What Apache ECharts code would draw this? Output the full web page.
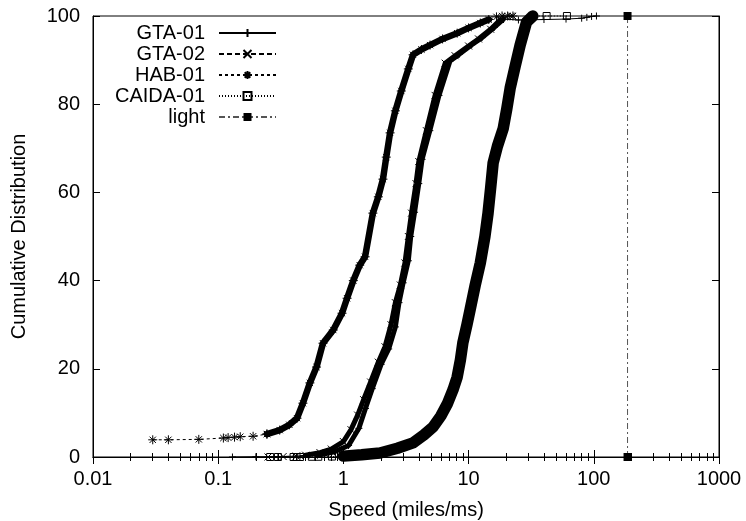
<!DOCTYPE html>
<html>
<head>
<meta charset="utf-8">
<title>Speed CDF</title>
<script src="https://cdn.jsdelivr.net/npm/echarts@6/dist/echarts.min.js"></script>
<style>
  html, body { margin: 0; padding: 0; background: #fff; }
  #chart { width: 746px; height: 521px; }
</style>
</head>
<body>
<div id="chart"></div>
<script>
// ---- data: [speed (miles/ms), cumulative %] ----
var xLabels = [0.01, 0.1, 1, 10, 100, 1000];
var yLabels = [0, 20, 40, 60, 80, 100];

var gta01Low = [[0.13, 0], [0.2, 0.05], [0.3, 0.1], [0.45, 0.2]];
var gta01Body = [[0.62, 0.4], [0.85, 1.2], [1.1, 2.6], [1.33, 6.5], [1.5, 11], [1.7, 15.5], [2.0, 21], [2.3, 24.5],
  [2.6, 29.5], [2.78, 35], [3.0, 39.5], [3.3, 44.5], [3.45, 50], [3.7, 55.5], [4.0, 62], [4.25, 67.5], [4.9, 74],
  [5.8, 82], [7.1, 89.8], [8.4, 91.3], [10.6, 93.5], [12.8, 95.1], [16, 97.4], [19, 99.3]];
var gta01High = [[25, 99.1], [40, 99.2], [60, 99.3], [80, 99.5], [88, 99.7], [96, 99.9], [105, 100]];

var gta02Low = [[0.25, 0], [0.33, 0.1], [0.42, 0.2]];
var gta02Body = [[0.5, 0.4], [0.65, 1.0], [0.8, 1.8], [1.0, 3.5], [1.15, 6.2], [1.3, 9.5], [1.45, 13], [1.65, 17],
  [1.9, 21.5], [2.15, 25], [2.4, 30], [2.6, 35], [2.85, 39], [3.1, 44], [3.3, 50], [3.5, 55.3], [3.8, 62],
  [4.0, 67], [4.6, 74], [5.4, 82], [6.5, 89.3], [7.8, 91], [10, 93.2], [12, 94.8], [15, 97], [18, 99.2]];
var gta02High = [[20, 99.8], [22, 100]];

var habLow = [[0.03, 3.9], [0.04, 3.9], [0.07, 4.0], [0.11, 4.3], [0.12, 4.4], [0.135, 4.5], [0.15, 4.6],
  [0.19, 4.7], [0.245, 5.2]];
var habBody = [[0.245, 5.2], [0.31, 6.1], [0.37, 7.3], [0.426, 8.8], [0.475, 12.2], [0.54, 16.8], [0.61, 20.4],
  [0.687, 25.8], [0.83, 28.8], [0.975, 32.6], [1.07, 36], [1.2, 40], [1.35, 43.5], [1.49, 45.4], [1.72, 55.3],
  [1.9, 59], [2.07, 63], [2.2, 68], [2.36, 73.5], [2.6, 78.5], [2.9, 83], [3.3, 88], [3.6, 91.2], [4.2, 92.4],
  [4.92, 93.4], [6.2, 94.8], [8.1, 96.1], [10, 97.3], [12.4, 98.4], [14.5, 99.2]];
var habHigh = [[16.7, 99.8], [18.5, 100], [20.5, 100], [22.6, 100]];

var caidaLow = [[0.26, 0], [0.3, 0], [0.4, 0], [0.45, 0], [0.56, 0.05], [0.63, 0.05], [0.81, 0.1], [1.0, 0.2]];
var caidaBody = [[1.0, 0.2], [1.4, 0.5], [1.96, 0.9], [2.7, 2.0], [3.6, 3.2], [4.4, 5.0], [5.2, 6.8], [6.0, 9.3],
  [6.8, 12.2], [7.5, 15.2], [8.1, 18.1], [8.6, 22], [9.0, 25.9], [9.7, 30], [10.3, 33.5], [11.3, 39], [12.4, 44],
  [13.5, 50], [14.3, 55.3], [15.0, 61], [15.7, 66.7], [17, 70.5], [18.9, 74.5], [20.2, 79], [21.5, 83.7],
  [23.5, 88.5], [25.8, 93.4], [29, 98.6], [32.6, 100]];
var caidaHigh = [[42, 100], [61, 100]];

var lightLine = [[186, 0], [186, 100]];

// ---- style ----
var FONT = "'Liberation Sans', Arial, sans-serif";
var plusSym = 'path://M5,0L5,10M0,5L10,5';
var crossSym = 'path://M0,0L10,10M0,10L10,0';
var starSym = 'path://M5,0L5,10M0,5L10,5M1.5,1.5L8.5,8.5M1.5,8.5L8.5,1.5';
var boxSym = 'path://M0,0L10,0L10,10L0,10Z';

function markSeries(name, data, symbol, size, dash) {
  return {
    name: name,
    type: 'line',
    data: data,
    symbol: symbol,
    symbolSize: size,
    showSymbol: true,
    showAllSymbol: true,
    clip: false,
    animation: false,
    itemStyle: { color: 'none', borderColor: '#000', borderWidth: 1 },
    lineStyle: { color: '#000', width: 1, type: dash }
  };
}

// the dense marker runs of the original show up as a thick black band
function bandSeries(name, data, width) {
  return {
    name: name,
    type: 'line',
    data: data,
    symbol: 'none',
    silent: true,
    clip: false,
    animation: false,
    lineStyle: { color: '#000', width: width, type: 'solid', cap: 'round', join: 'round' }
  };
}

var tickInside = { show: true, inside: true, length: 7, lineStyle: { color: '#000', width: 1 } };
var minorInside = { show: true, splitNumber: 9, length: 4, lineStyle: { color: '#000', width: 1 } };

var myChart = echarts.init(document.getElementById('chart'));

var option = {
  backgroundColor: '#fff',
  animation: false,
  textStyle: { fontFamily: FONT },
  grid: {
    left: 93, right: 27, top: 16, bottom: 64,
    containLabel: false,
    outerBoundsMode: 'none',
    show: true, borderColor: '#000', borderWidth: 1
  },
  legend: {
    orient: 'vertical',
    align: 'right',
    right: 469,
    top: 23,
    padding: 0,
    itemGap: 1,
    itemWidth: 57,
    itemHeight: 10,
    data: ['GTA-01', 'GTA-02', 'HAB-01', 'CAIDA-01', 'light'],
    textStyle: { fontSize: 20, color: '#000', fontFamily: FONT, padding: [0, 9, 0, 0] }
  },
  xAxis: [{
    type: 'log',
    logBase: 10,
    min: xLabels[0],
    max: xLabels[xLabels.length - 1],
    name: 'Speed (miles/ms)',
    nameLocation: 'middle',
    nameGap: 43,
    nameTextStyle: { fontSize: 20, color: '#000', fontFamily: FONT },
    axisLine: { show: true, lineStyle: { color: '#000', width: 1 } },
    axisTick: tickInside,
    minorTick: minorInside,
    splitLine: { show: false },
    axisLabel: {
      fontSize: 20, color: '#000', fontFamily: FONT, margin: 12,
      formatter: function (v) { return String(+(+v).toPrecision(6)); }
    }
  }, {
    type: 'log',
    logBase: 10,
    position: 'top',
    min: xLabels[0],
    max: xLabels[xLabels.length - 1],
    axisLine: { show: true, lineStyle: { color: '#000', width: 1 } },
    axisTick: tickInside,
    minorTick: minorInside,
    splitLine: { show: false },
    axisLabel: { show: false }
  }],
  yAxis: [{
    type: 'value',
    min: yLabels[0],
    max: yLabels[yLabels.length - 1],
    interval: 20,
    name: 'Cumulative Distribution',
    nameLocation: 'middle',
    nameGap: 64,
    nameTextStyle: { fontSize: 20, color: '#000', fontFamily: FONT },
    axisLine: { show: true, lineStyle: { color: '#000', width: 1 } },
    axisTick: tickInside,
    splitLine: { show: false },
    axisLabel: { fontSize: 20, color: '#000', fontFamily: FONT, margin: 13 }
  }, {
    type: 'value',
    position: 'right',
    min: yLabels[0],
    max: yLabels[yLabels.length - 1],
    interval: 20,
    axisLine: { show: true, lineStyle: { color: '#000', width: 1 } },
    axisTick: tickInside,
    splitLine: { show: false },
    axisLabel: { show: false }
  }],
  series: [
    markSeries('GTA-01', gta01Low.concat(gta01Body, gta01High), plusSym, 7, 'solid'),
    markSeries('GTA-02', gta02Low.concat(gta02Body, gta02High), crossSym, 7, [5, 3]),
    markSeries('HAB-01', habLow.concat(habBody, habHigh), starSym, 9, [3, 3]),
    markSeries('CAIDA-01', caidaLow.concat(caidaBody, caidaHigh), boxSym, 7, [1, 2]),
    {
      name: 'light',
      type: 'line',
      data: lightLine,
      symbol: 'rect',
      symbolSize: 8,
      clip: false,
      animation: false,
      itemStyle: { color: '#000' },
      lineStyle: { color: '#555', width: 1, type: [6, 3, 2, 3] }
    },
    bandSeries('gta01-band', gta01Body, 5),
    bandSeries('gta02-band', gta02Body, 5),
    bandSeries('hab-band', habBody, 6.5),
    bandSeries('caida-band', caidaBody, 11.5)
  ]
};

myChart.setOption(option);
</script>
</body>
</html>
